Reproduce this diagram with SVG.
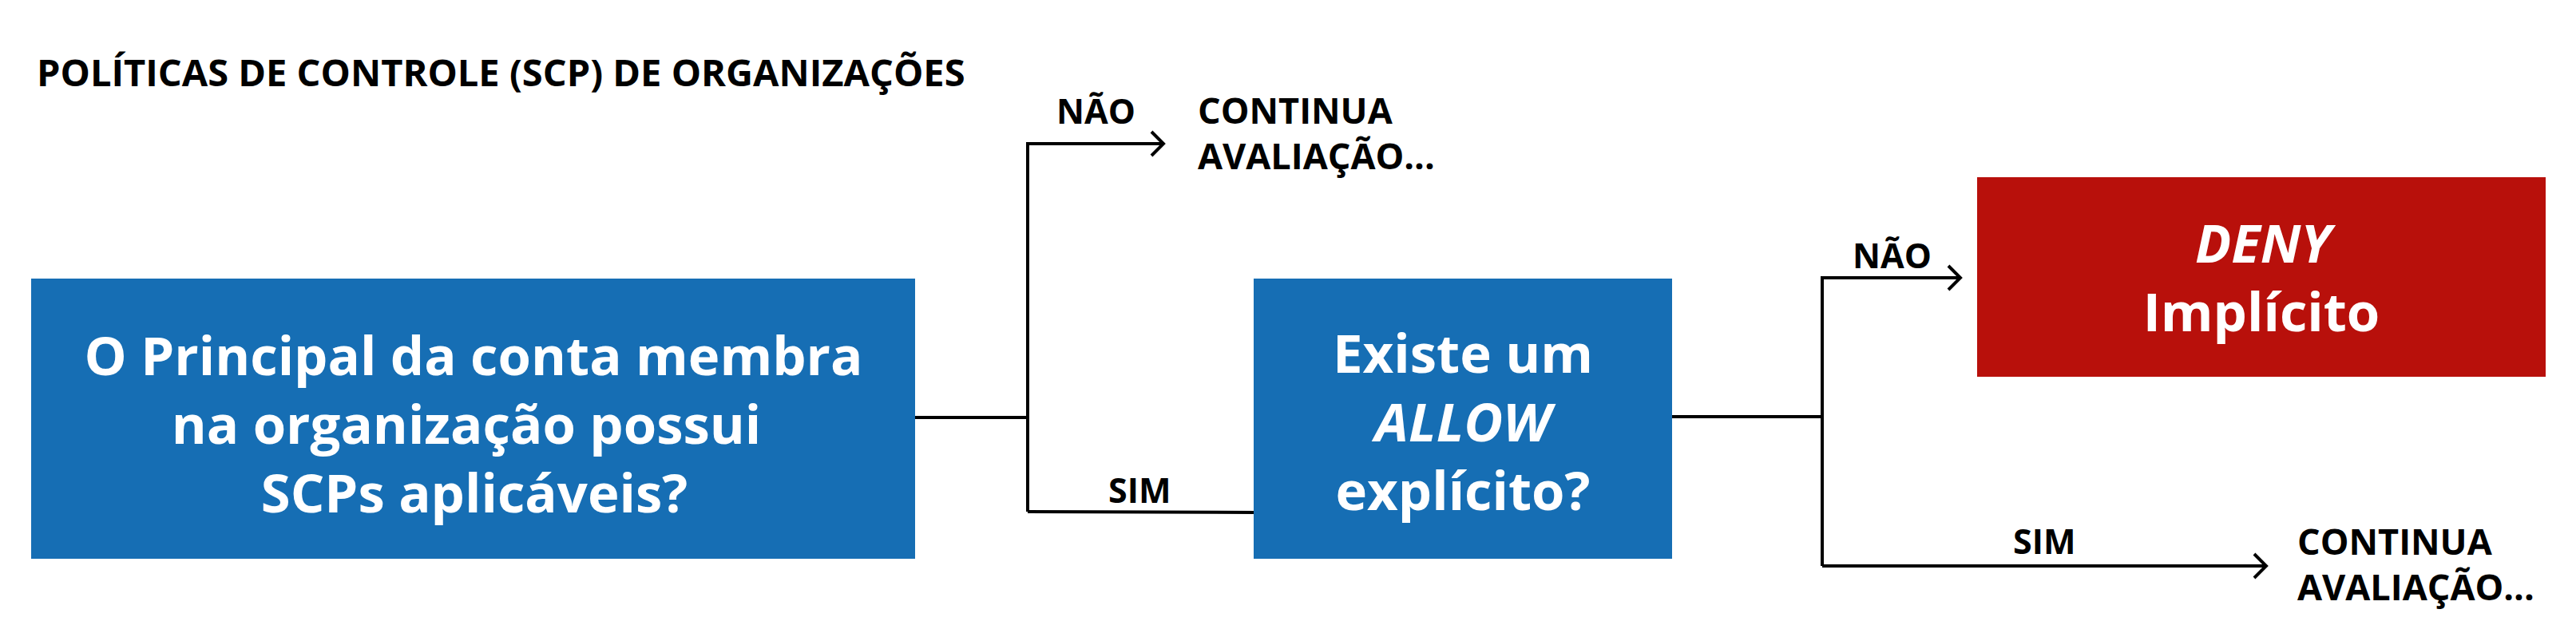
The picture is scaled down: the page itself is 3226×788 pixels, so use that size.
<svg xmlns="http://www.w3.org/2000/svg" width="3226" height="788" viewBox="0 0 3226 788">
<defs>
<style>
.box{fill:#166EB4}
.deny{fill:#B8100B}
.bt{font-family:"Open Sans","Noto Sans",sans-serif;font-weight:700;font-size:67px;fill:#fff;text-anchor:middle}
.lb{font-family:"Open Sans","Noto Sans",sans-serif;font-weight:700;font-size:45px;fill:#000}
.sm{font-size:43px}
.title{font-family:"Open Sans","Noto Sans",sans-serif;font-weight:700;font-size:47px;fill:#000}
.ln{fill:none;stroke:#000;stroke-width:4}
</style>
<marker id="chev" markerUnits="userSpaceOnUse" markerWidth="40" markerHeight="40" viewBox="-20 -20 40 40" refX="0" refY="0" orient="auto" overflow="visible">
<path d="M-15,-15 L0,0 L-15,15" fill="none" stroke="#000" stroke-width="4"/>
</marker>
</defs>
<rect width="3226" height="788" fill="#fff"/>
<text class="title" x="46" y="108">POLÍTICAS DE CONTROLE (SCP) DE ORGANIZAÇÕES</text>

<g id="connectors">
<polyline class="ln" points="1146,523 1287,523"/>
<polyline class="ln" points="1287,641 1287,180 1457,180" marker-end="url(#chev)"/>
<polyline class="ln" points="1287,641 1572,642"/>
<polyline class="ln" points="2094,522 2282,522"/>
<polyline class="ln" points="2282,709 2282,348 2455,348" marker-end="url(#chev)"/>
<polyline class="ln" points="2282,709 2838,709" marker-end="url(#chev)"/>
<text class="lb sm" x="1323" y="155">NÃO</text>
<text class="lb sm" x="1388" y="630">SIM</text>
<text class="lb sm" x="2320" y="336">NÃO</text>
<text class="lb sm" x="2521" y="694">SIM</text>
</g>

<g id="n-scp">
<rect class="box" x="39" y="349" width="1107" height="351"/>
<text class="bt" x="593" y="470">O Principal da conta membra</text>
<text class="bt" x="584" y="556">na organização possui</text>
<text class="bt" x="594" y="642">SCPs aplicáveis?</text>
</g>

<g id="n-allow">
<rect class="box" x="1570" y="349" width="524" height="351"/>
<text class="bt" x="1832" y="467">Existe um</text>
<text class="bt" x="1832" y="553" font-style="italic">ALLOW</text>
<text class="bt" x="1832" y="639">explícito?</text>
</g>

<g id="n-deny">
<rect class="deny" x="2476" y="222" width="712" height="250"/>
<text class="bt" x="2834" y="329" font-style="italic">DENY</text>
<text class="bt" x="2832" y="415">Implícito</text>
</g>

<g id="n-cont1">
<text class="lb" x="1500" y="155">CONTINUA</text>
<text class="lb" x="1500" y="212">AVALIAÇÃO...</text>
</g>

<g id="n-cont2">
<text class="lb" x="2877" y="695">CONTINUA</text>
<text class="lb" x="2877" y="752">AVALIAÇÃO...</text>
</g>
</svg>
